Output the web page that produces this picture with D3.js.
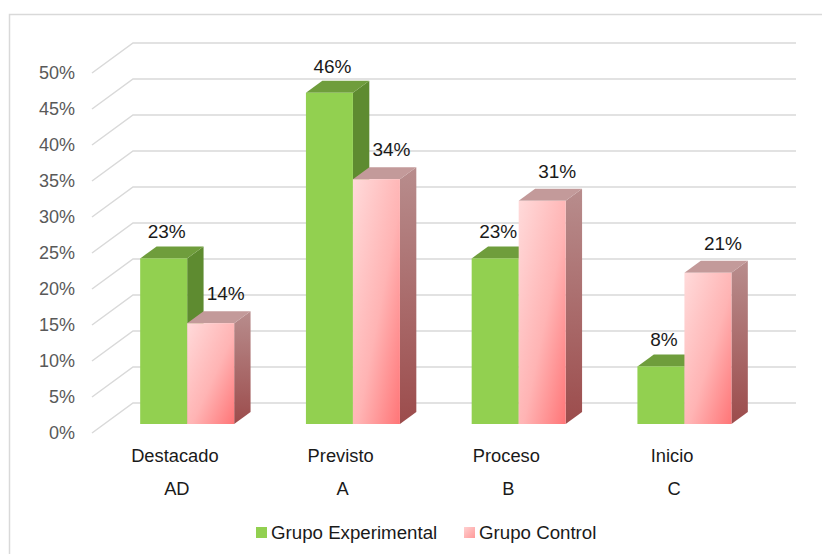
<!DOCTYPE html>
<html>
<head>
<meta charset="utf-8">
<script src="https://cdn.jsdelivr.net/npm/d3@7"></script>
<style>
  html, body { margin: 0; padding: 0; background: #fff; }
  svg { display: block; font-family: "Liberation Sans", Arial, sans-serif; }
</style>
</head>
<body>
<svg id="chart" width="822" height="554"></svg>
<script>
// ---- data ----
const categories = ["Destacado", "Previsto", "Proceso", "Inicio"];
const categoryCodes = ["AD", "A", "B", "C"];
const seriesNames = ["Grupo Experimental", "Grupo Control"];
const experimental = [0.23, 0.46, 0.23, 0.08];
const control = [0.14, 0.34, 0.31, 0.21];
const yTicks = [0, 0.05, 0.10, 0.15, 0.20, 0.25, 0.30, 0.35, 0.40, 0.45, 0.50];

const svg = d3.select("#chart");

// ---- 3D frame geometry ----
const frontLeft = 92, frontRight = 755, floorFront = 433;
const depthX = 41, depthY = -30;           // full depth of the plot box
const barZ0 = 0.3, barZ1 = 0.7;            // bars sit in the middle of the depth

const h = d3.scaleLinear().domain([0, 0.5]).range([0, 360]);
const fmt = d3.format(".0%");

// outer chart border
svg.append("rect")
  .attr("x", 9.5).attr("y", 14.5).attr("width", 830).attr("height", 560)
  .attr("fill", "none").attr("stroke", "#d9d9d9").attr("stroke-width", 1.5);

// back wall gridlines + left wall diagonals
const grid = svg.append("g").attr("stroke", "#d9d9d9").attr("stroke-width", 1.5).attr("fill", "none");
yTicks.forEach(t => {
  const yf = floorFront - h(t);
  grid.append("path")
    .attr("d", d3.line()([[frontLeft, yf], [frontLeft + depthX, yf + depthY], [frontRight + depthX, yf + depthY]]));
});

// y-axis labels
svg.append("g").selectAll("text").data(yTicks).join("text")
  .attr("x", 75).attr("y", d => floorFront - h(d))
  .attr("dy", "0.35em").attr("text-anchor", "end")
  .attr("font-size", 18).attr("fill", "#595959")
  .text(d => fmt(d));

// category scale on the bar plane
const shiftX = barZ0 * depthX, shiftY = barZ0 * depthY;
const x = d3.scaleBand().domain(categories)
  .range([frontLeft + shiftX, frontRight + shiftX]);
const barW = 47;
const barDX = (barZ1 - barZ0) * depthX, barDY = (barZ1 - barZ0) * depthY;
const baseY = floorFront + shiftY;

// gradients
const defs = svg.append("defs");
function grad(id, stops, x2, y2) {
  const g = defs.append("linearGradient").attr("id", id)
    .attr("x1", 0).attr("y1", 0).attr("x2", x2).attr("y2", y2);
  stops.forEach(([o, c]) => g.append("stop").attr("offset", o).attr("stop-color", c));
}
grad("pinkFront", [[0, "#ffdada"], [0.55, "#ffb4b4"], [1, "#ff7577"]], 1, 1);
grad("pinkSide", [[0, "#b88d8d"], [1, "#9c4c4c"]], 0, 1);
grad("pinkLegend", [[0, "#ffd0d0"], [1, "#ff9a9a"]], 1, 1);

const styles = [
  { front: "#92d050", side: "#5e8b30", top: "#6f9d3c" },
  { front: "url(#pinkFront)", side: "url(#pinkSide)", top: "#c39a9a" }
];
const seriesValues = [experimental, control];

const bars = svg.append("g");
categories.forEach((c, i) => {
  const cx = x(c) + x.bandwidth() / 2;
  seriesValues.forEach((vals, s) => {
    const v = vals[i];
    const x0 = cx - barW + s * barW, x1 = x0 + barW;
    const yTop = baseY - h(v);
    const st = styles[s];
    // side face
    bars.append("path").attr("fill", st.side)
      .attr("d", d3.line()([[x1, yTop], [x1 + barDX, yTop + barDY], [x1 + barDX, baseY + barDY], [x1, baseY]]) + "Z");
    // top face
    bars.append("path").attr("fill", st.top)
      .attr("d", d3.line()([[x0, yTop], [x0 + barDX, yTop + barDY], [x1 + barDX, yTop + barDY], [x1, yTop]]) + "Z");
    // front face
    bars.append("rect").attr("fill", st.front)
      .attr("x", x0).attr("y", yTop).attr("width", barW).attr("height", h(v));
    // value label
    svg.append("text")
      .attr("x", (x0 + x1) / 2 + (s === 0 ? 3 : 15))
      .attr("y", yTop + barDY - (s === 0 ? 8 : 11))
      .attr("text-anchor", "middle").attr("font-size", 19).attr("fill", "#1a1a1a")
      .text(fmt(v));
  });
});

// category labels (two lines) on the front floor edge
categories.forEach((c, i) => {
  const cx = x(c) + x.bandwidth() / 2 - shiftX;
  const g = svg.append("g").attr("text-anchor", "middle").attr("font-size", 18.3).attr("fill", "#1a1a1a");
  g.append("text").attr("x", cx).attr("y", 462).text(c);
  g.append("text").attr("x", cx + 2).attr("y", 495).text(categoryCodes[i]);
});

// legend
const legend = svg.append("g").attr("font-size", 18.7).attr("fill", "#1a1a1a");
const legendItems = [
  { name: seriesNames[0], fill: "#92d050", x: 256 },
  { name: seriesNames[1], fill: "url(#pinkLegend)", x: 464 }
];
legendItems.forEach(d => {
  legend.append("rect").attr("x", d.x).attr("y", 527).attr("width", 11).attr("height", 11).attr("fill", d.fill);
  legend.append("text").attr("x", d.x + 15).attr("y", 538.5).text(d.name);
});
</script>
</body>
</html>
